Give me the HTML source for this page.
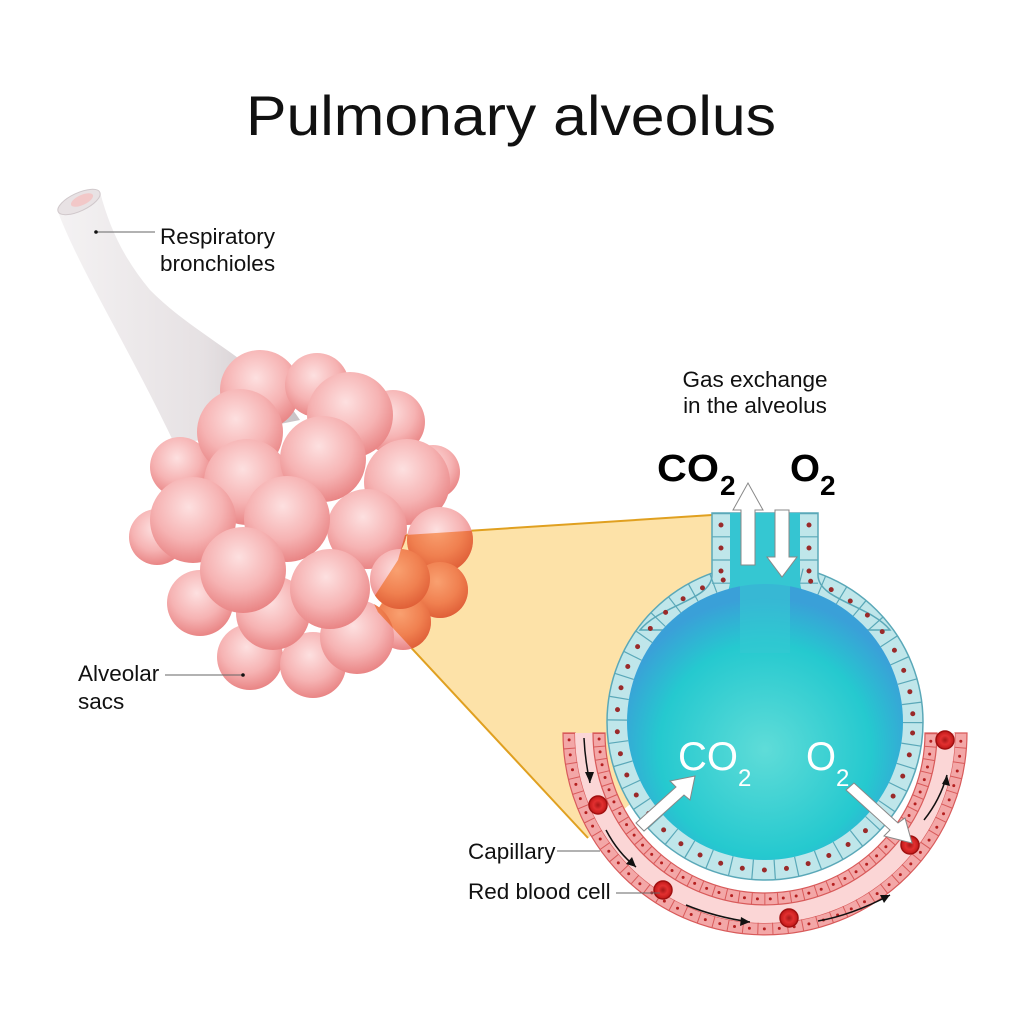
<!DOCTYPE html>
<html><head><meta charset="utf-8"><style>
html,body{margin:0;padding:0;background:#fff}
svg{display:block}
text{font-family:"Liberation Sans",sans-serif}
</style></head><body>
<svg width="1024" height="1024" viewBox="0 0 1024 1024" xmlns="http://www.w3.org/2000/svg">
<defs>
<radialGradient id="sp" cx="0.45" cy="0.35" r="0.65">
<stop offset="0" stop-color="#fde0e0"/><stop offset="0.6" stop-color="#f6b3b3"/><stop offset="1" stop-color="#e98585"/>
</radialGradient>
<radialGradient id="spo" cx="0.45" cy="0.35" r="0.65">
<stop offset="0" stop-color="#f9a070"/><stop offset="0.6" stop-color="#f08050"/><stop offset="1" stop-color="#e06038"/>
</radialGradient>
<linearGradient id="tube" x1="0" y1="0" x2="1" y2="0">
<stop offset="0" stop-color="#f4f2f3"/><stop offset="0.6" stop-color="#e6e1e3"/><stop offset="1" stop-color="#c9c2c5"/>
</linearGradient>
<radialGradient id="lum" cx="0.5" cy="0.6" r="0.55">
<stop offset="0" stop-color="#5fdcd8"/><stop offset="0.7" stop-color="#25c9cf"/><stop offset="1" stop-color="#3aa0d8"/>
</radialGradient>
<linearGradient id="neck" x1="0" y1="0" x2="1" y2="0">
<stop offset="0" stop-color="#3a86d6"/><stop offset="0.3" stop-color="#35c5d2"/><stop offset="0.7" stop-color="#35c5d2"/><stop offset="1" stop-color="#3a86d6"/>
</linearGradient>
<radialGradient id="rbc" cx="0.5" cy="0.5" r="0.5">
<stop offset="0" stop-color="#a81818"/><stop offset="0.5" stop-color="#e23030"/><stop offset="1" stop-color="#c01818"/>
</radialGradient>
<clipPath id="fun"><polygon points="405,535 712,515 760,700 588,838 378,612 372,600 385,580 398,560"/></clipPath>
</defs>

<text x="511" y="135" font-size="56" text-anchor="middle" textLength="530" lengthAdjust="spacingAndGlyphs" fill="#111">Pulmonary alveolus</text>

<!-- funnel -->
<polygon points="405,535 712,515 760,700 588,838 378,612" fill="#fde2a8"/>
<line x1="405" y1="535" x2="712" y2="515" stroke="#e0a020" stroke-width="2"/>
<line x1="378" y1="612" x2="588" y2="838" stroke="#e0a020" stroke-width="2"/>

<!-- bronchiole -->
<path d="M58,212 C80,270 130,350 175,445 L300,420 C260,360 200,340 150,290 C125,260 110,230 100,192 Z" fill="url(#tube)"/>
<ellipse cx="79" cy="202" rx="23" ry="9" transform="rotate(-25 79 202)" fill="#e8e2e4" stroke="#d0c8cb"/>
<ellipse cx="82" cy="200" rx="12" ry="5" transform="rotate(-25 82 200)" fill="#f2c8c8"/>

<!-- spheres -->
<g id="sph" fill="url(#sp)">
<circle cx="260" cy="390" r="40"/><circle cx="317" cy="385" r="32"/><circle cx="393" cy="422" r="32"/>
<circle cx="433" cy="472" r="27"/><circle cx="180" cy="467" r="30"/><circle cx="350" cy="415" r="43"/>
<circle cx="240" cy="432" r="43"/><circle cx="157" cy="537" r="28"/><circle cx="407" cy="482" r="43"/>
<circle cx="247" cy="482" r="43"/><circle cx="323" cy="459" r="43"/><circle cx="440" cy="540" r="33"/>
<circle cx="193" cy="520" r="43"/><circle cx="367" cy="529" r="40"/><circle cx="287" cy="519" r="43"/>
<circle cx="440" cy="590" r="28"/><circle cx="200" cy="603" r="33"/><circle cx="403" cy="622" r="28"/>
<circle cx="400" cy="579" r="30"/><circle cx="250" cy="657" r="33"/><circle cx="313" cy="665" r="33"/>
<circle cx="357" cy="637" r="37"/><circle cx="273" cy="613" r="37"/><circle cx="243" cy="570" r="43"/>
<circle cx="330" cy="589" r="40"/>
</g>
<g clip-path="url(#fun)" fill="url(#spo)">
<circle cx="440" cy="540" r="33"/><circle cx="367" cy="529" r="40"/>
<circle cx="440" cy="590" r="28"/><circle cx="403" cy="622" r="28"/>
<circle cx="400" cy="579" r="30"/><circle cx="357" cy="637" r="37"/>
</g>

<text x="160" y="244" font-size="22.5" fill="#111">Respiratory</text>
<text x="160" y="271" font-size="22.5" fill="#111">bronchioles</text>
<line x1="96" y1="232" x2="155" y2="232" stroke="#666"/><circle cx="96" cy="232" r="1.8" fill="#111"/>
<text x="78" y="681" font-size="22.5" fill="#111">Alveolar</text>
<text x="78" y="709" font-size="22.5" fill="#111">sacs</text>
<line x1="165" y1="675" x2="243" y2="675" stroke="#666"/><circle cx="243" cy="675" r="1.8" fill="#111"/>

<text x="755" y="387" font-size="22.5" text-anchor="middle" fill="#111">Gas exchange</text>
<text x="755" y="413" font-size="22.5" text-anchor="middle" fill="#111">in the alveolus</text>
<text x="657" y="481" font-size="38" font-weight="bold" fill="#000" textLength="62" lengthAdjust="spacingAndGlyphs">CO</text>
<text x="720" y="495" font-size="28" font-weight="bold" fill="#000">2</text>
<text x="790" y="481" font-size="38" font-weight="bold" fill="#000" textLength="30" lengthAdjust="spacingAndGlyphs">O</text>
<text x="820" y="495" font-size="28" font-weight="bold" fill="#000">2</text>

<!-- alveolus -->
<circle cx="765" cy="722" r="158" fill="#bfe6ea" stroke="#5aa8b8" stroke-width="1.5"/>
<path d="M712,513 L712,575 C712,600 660,605 640,630 L890,630 C870,605 818,600 818,575 L818,513 Z" fill="#bfe6ea" stroke="#5aa8b8" stroke-width="1.5"/>
<circle cx="765" cy="722" r="148" fill="none" stroke="#5aa8b8" stroke-width="20" stroke-dasharray="1.2 21"/>
<line x1="721" y1="513" x2="721" y2="590" stroke="#5aa8b8" stroke-width="18" stroke-dasharray="1.2 22"/>
<line x1="809" y1="513" x2="809" y2="590" stroke="#5aa8b8" stroke-width="18" stroke-dasharray="1.2 22"/>
<circle cx="765" cy="722" r="148" fill="none" stroke="#9a2a2a" stroke-width="5" stroke-linecap="round" stroke-dasharray="0 22.2" stroke-dashoffset="-11"/>
<line x1="721" y1="525" x2="721" y2="590" stroke="#9a2a2a" stroke-width="5" stroke-linecap="round" stroke-dasharray="0 23"/>
<line x1="809" y1="525" x2="809" y2="590" stroke="#9a2a2a" stroke-width="5" stroke-linecap="round" stroke-dasharray="0 23"/>
<path d="M730,513 L730,580 C730,610 690,620 665,640 L865,640 C840,620 800,610 800,580 L800,513 Z" fill="url(#neck)"/>
<circle cx="765" cy="722" r="138" fill="url(#lum)"/>
<rect x="740" y="513" width="50" height="140" fill="#35c8d2" opacity="0.6"/>

<!-- capillary -->
<path d="M563,733 A202,202 0 0 0 967,733 L955,733 A190,190 0 0 1 575,733 Z" fill="#f3a7a7" stroke="#d85a5a" stroke-width="1.2"/>
<path d="M575,733 A190,190 0 0 0 955,733 L937,733 A172,172 0 0 1 593,733 Z" fill="#fbd6d6"/>
<path d="M593,733 A172,172 0 0 0 937,733 L925,733 A160,160 0 0 1 605,733 Z" fill="#f3a7a7" stroke="#d85a5a" stroke-width="1.2"/>
<path d="M569,733 A196,196 0 0 0 961,733" fill="none" stroke="#d85a5a" stroke-width="12" stroke-dasharray="1 14"/>
<path d="M599,733 A166,166 0 0 0 931,733" fill="none" stroke="#d85a5a" stroke-width="12" stroke-dasharray="1 12"/>
<path d="M569,733 A196,196 0 0 0 961,733" fill="none" stroke="#b52020" stroke-width="3" stroke-linecap="round" stroke-dasharray="0 15" stroke-dashoffset="-7"/>
<path d="M599,733 A166,166 0 0 0 931,733" fill="none" stroke="#b52020" stroke-width="3" stroke-linecap="round" stroke-dasharray="0 13" stroke-dashoffset="-6"/>
<g stroke="#a01010" stroke-width="1.5">
<circle cx="598" cy="805" r="9" fill="url(#rbc)"/><circle cx="663" cy="890" r="9" fill="url(#rbc)"/>
<circle cx="789" cy="918" r="9" fill="url(#rbc)"/><circle cx="910" cy="845" r="9" fill="url(#rbc)"/>
<circle cx="945" cy="740" r="9" fill="url(#rbc)"/>
</g>
<g fill="none" stroke="#111" stroke-width="1.5">
<path d="M584,738 Q585,760 590,783"/><path d="M606,830 Q618,853 636,867"/><path d="M686,905 Q715,917 750,922"/>
<path d="M818,921 Q852,915 890,895"/><path d="M924,820 Q940,800 947,775"/>
</g>
<g fill="#111">
<polygon points="590,783 585,772 594,772"/><polygon points="636,867 626,864 632,857"/><polygon points="750,922 740,926 741,917"/>
<polygon points="890,895 884,903 880,895"/><polygon points="947,775 950,786 942,784"/>
</g>

<!-- arrows -->
<g fill="#fff" stroke="#888" stroke-width="1">
<polygon points="741,565 741,510 733,510 748,483 763,510 755,510 755,565"/>
<polygon points="775,510 775,557 767,557 782,577 797,557 789,557 789,510"/>
<polygon points="636,823 676,787 670,781 695,776 690,800 684,795 644,831"/>
<polygon points="846,790 890,830 884,836 912,843 905,818 898,823 854,783"/>
</g>
<text x="678" y="770" font-size="40" fill="#fff" textLength="60" lengthAdjust="spacingAndGlyphs">CO</text>
<text x="738" y="786" font-size="24" fill="#fff">2</text>
<text x="806" y="770" font-size="40" fill="#fff" textLength="30" lengthAdjust="spacingAndGlyphs">O</text>
<text x="836" y="786" font-size="24" fill="#fff">2</text>

<text x="468" y="859" font-size="22.5" fill="#111">Capillary</text>
<line x1="557" y1="851" x2="600" y2="851" stroke="#666"/>
<text x="468" y="899" font-size="22.5" fill="#111">Red blood cell</text>
<line x1="616" y1="893" x2="660" y2="893" stroke="#666"/>
</svg>
</body></html>
